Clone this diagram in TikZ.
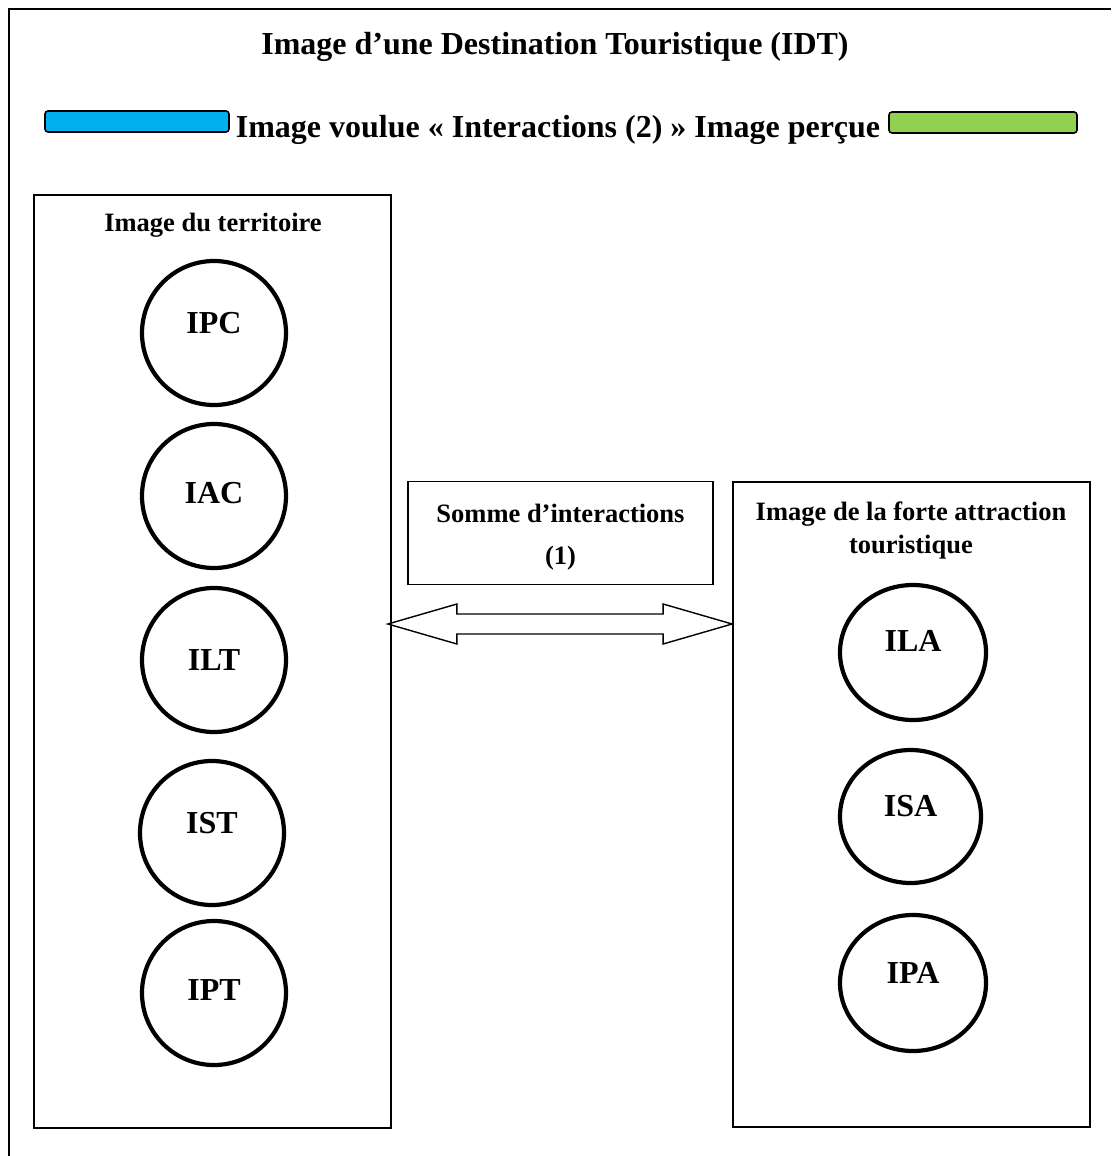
\documentclass[tikz,border=0pt]{standalone}
\usepackage{fontspec}
\setmainfont{Liberation Serif}
\usetikzlibrary{calc,shapes.geometric}
\definecolor{legblue}{RGB}{0,176,240}
\definecolor{leggreen}{RGB}{146,208,80}
\begin{document}
\begin{tikzpicture}[x=1pt,y=-1pt,
  frame/.style={draw=black,line width=1.6pt},
  bigbox/.style={draw=black,line width=1.8pt,inner sep=0pt},
  circ/.style={draw=black,line width=4.2pt,circle,inner sep=0pt,minimum size=144pt},
  ell/.style={draw=black,line width=4.2pt,ellipse,inner sep=0pt},
  lbl/.style={font=\fontsize{32}{38}\selectfont\bfseries,inner sep=0pt,anchor=base},
  sublbl/.style={font=\fontsize{26.5}{32}\selectfont\bfseries,inner sep=0pt,anchor=base,align=center},
  legbox/.style={draw=black,line width=1.6pt,rounded corners=3pt,inner sep=0pt,minimum width=184pt,minimum height=21pt}
]
\useasboundingbox (0,0) rectangle (1111,1156);
% outer frame (only top and left visible)
\draw[frame] (1111,9) -- (9,9) -- (9,1156);
% title
\node[lbl] (title) at (555,55) {Image d’une Destination Touristique (IDT)};
% legend
\node[legbox,fill=legblue] (blue) at (137,121.5) {};
\node[legbox,fill=leggreen,minimum width=188pt] (green) at (983,122.5) {};
\node[lbl] (legend) at (558,137) {Image voulue « Interactions (2) » Image perçue};
% left box
\node[bigbox,minimum width=357pt,minimum height=933pt] (lbox) at (212.5,661.5) {};
\node[sublbl] (ltitle) at (213,231) {Image du territoire};
\node[circ] (ipc) at (214,333) {};
\node[lbl] (ipct) at (214,333) {IPC};
\node[circ] (iac) at (214,496) {};
\node[lbl] (iact) at (214,503) {IAC};
\node[circ] (ilt) at (214,660) {};
\node[lbl] (iltt) at (214,670) {ILT};
\node[circ] (ist) at (212,833) {};
\node[lbl] (istt) at (212,833) {IST};
\node[circ] (ipt) at (214,993) {};
\node[lbl] (iptt) at (214,1000) {IPT};
% middle box
\node[bigbox,minimum width=305pt,minimum height=103pt] (mbox) at (560.5,533) {};
\node[sublbl] (mt1) at (560.5,522) {Somme d’interactions};
\node[sublbl] (mt2) at (560.5,564) {(1)};
% right box
\node[bigbox,minimum width=357pt,minimum height=645pt] (rbox) at (911.5,804.5) {};
\node[sublbl] (rt1) at (911,520) {Image de la forte attraction};
\node[sublbl] (rt2) at (911,553) {touristique};
\node[ell,minimum width=146pt,minimum height=135pt] (ila) at (913,652.5) {};
\node[lbl] (ilat) at (913,651) {ILA};
\node[ell,minimum width=141pt,minimum height=133pt] (isa) at (910.5,816.5) {};
\node[lbl] (isat) at (910.5,816) {ISA};
\node[ell,minimum width=146pt,minimum height=136pt] (ipa) at (913,983) {};
\node[lbl] (ipat) at (913,983) {IPA};
% double arrow
\coordinate (aL) at ([xshift=-4pt]lbox.east |- 0,624);
\coordinate (aR) at (rbox.west |- 0,624);
\draw[line width=1.4pt,line join=miter]
  (aL) -- ($(aL)+(69,-20)$) -- ($(aL)+(69,-10)$) -- ($(aR)+(-69,-10)$) -- ($(aR)+(-69,-20)$)
  -- (aR) -- ($(aR)+(-69,20)$) -- ($(aR)+(-69,10)$) -- ($(aL)+(69,10)$) -- ($(aL)+(69,20)$) -- cycle;
\end{tikzpicture}
\end{document}
